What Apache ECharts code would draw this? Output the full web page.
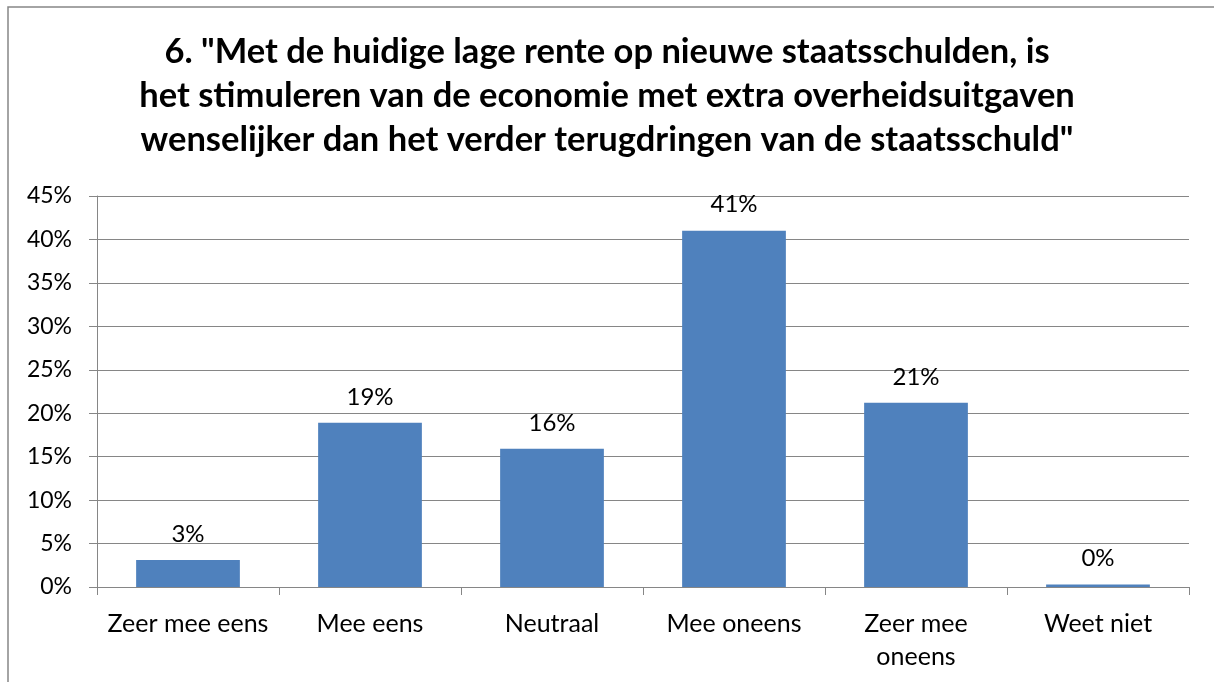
<!DOCTYPE html>
<html>
<head>
<meta charset="utf-8">
<script src="https://cdn.jsdelivr.net/npm/echarts@6/dist/echarts.min.js"></script>
<style>
  html, body { margin: 0; padding: 0; background: #fff; }
  #chart { width: 1214px; height: 682px; }
</style>
</head>
<body>
<div id="chart"></div>
<script>
const titleLines = [
  '6. "Met de huidige lage rente op nieuwe staatsschulden, is',
  'het stimuleren van de economie met extra overheidsuitgaven',
  'wenselijker dan het verder terugdringen van de staatsschuld"'
];
const categories = ["Zeer mee eens", "Mee eens", "Neutraal", "Mee oneens", "Zeer mee\noneens", "Weet niet"];
const shares = [3.1, 18.9, 15.9, 41.0, 21.2, 0.3];
const yTicks = [0, 5, 10, 15, 20, 25, 30, 35, 40, 45];

const FONT = "Lato, 'Open Sans', sans-serif";
const GRAY = "#868686";

const chart = echarts.init(document.getElementById("chart"));
chart.setOption({
  backgroundColor: "#fff",
  animation: false,
  graphic: [{
    type: "rect",
    shape: { x: 8, y: 7, width: 1400, height: 1000 },
    style: { fill: "none", stroke: GRAY, lineWidth: 1.5 },
    silent: true
  }],
  title: {
    text: titleLines.join("\n"),
    left: "center", top: 25,
    textStyle: { fontFamily: FONT, fontWeight: "bold", fontSize: 34.5, lineHeight: 44, color: "#000" }
  },
  grid: { left: 97, right: 25, top: 196, bottom: 95, containLabel: false },
  xAxis: {
    type: "category",
    data: categories,
    axisLine: { lineStyle: { color: GRAY, width: 1 } },
    axisTick: { show: true, length: 8, lineStyle: { color: GRAY } },
    axisLabel: { color: "#000", fontFamily: FONT, fontSize: 25, margin: 20, lineHeight: 33, interval: 0 }
  },
  yAxis: {
    type: "value",
    min: yTicks[0], max: yTicks[yTicks.length - 1], interval: 5,
    axisLine: { show: true, lineStyle: { color: GRAY, width: 1 } },
    axisTick: { show: true, length: 8, lineStyle: { color: GRAY } },
    splitLine: { lineStyle: { color: GRAY, width: 1 } },
    axisLabel: { color: "#000", fontFamily: FONT, fontSize: 23, margin: 25, formatter: v => v + "%" }
  },
  series: [{
    type: "bar",
    data: shares,
    barWidth: "57%",
    itemStyle: { color: "#4F81BD" },
    label: {
      show: true, position: "top", distance: 14,
      color: "#000", fontFamily: FONT, fontSize: 24,
      formatter: p => Math.round(p.value) + "%"
    }
  }]
});
</script>
</body>
</html>
